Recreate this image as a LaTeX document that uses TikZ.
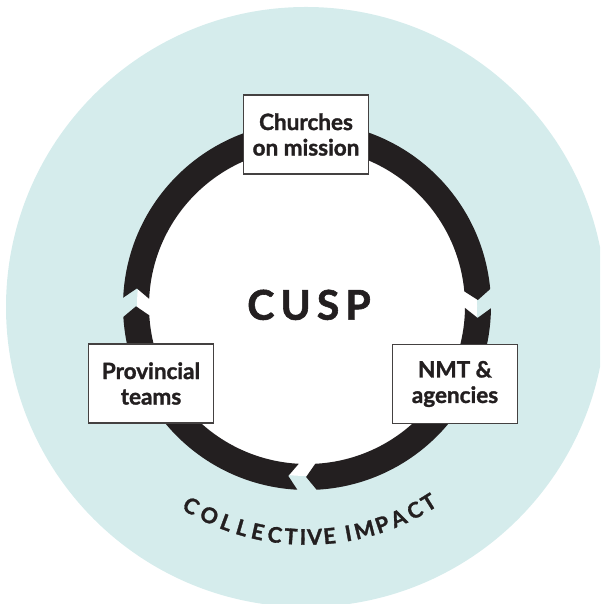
\documentclass[tikz,border=0pt]{standalone}
\usepackage{fontspec}
\setmainfont{Lato}[BoldFeatures={FakeBold=1.4}]
\usetikzlibrary{calc}
\definecolor{bgteal}{HTML}{D5ECEC}
\definecolor{inkblack}{HTML}{231F20}
\newcommand\arcfont{\fontsize{21.5}{24}\selectfont\bfseries}
\newcommand\ringarc[2]{%
  \pgfmathsetmacro\sa{#1-3}\pgfmathsetmacro\ea{#2+3}%
  \pgfmathsetmacro\ta{#2-0.3}\pgfmathsetmacro\nb{#1-6.3}%
  \fill[inkblack] ($(rc)+(\sa:184)$) arc[start angle=\sa, end angle=\ea, radius=184]
    -- ($(rc)+(\ta:171)$) -- ($(rc)+(\ea:158)$)
    arc[start angle=\ea, end angle=\sa, radius=158]
    -- ($(rc)+(\nb:171)$) -- cycle;}
\begin{document}
\begin{tikzpicture}[x=1pt,y=1pt,
  box/.style={draw=inkblack!85, line width=1.1pt, fill=white,
    minimum width=125pt, minimum height=79pt, align=center,
    font=\fontsize{22.5}{25.5}\selectfont\bfseries, text=inkblack, inner sep=0pt},
  arcletter/.style={anchor=center, inner sep=0pt, text=inkblack, font=\arcfont}]
\useasboundingbox (0,0) rectangle (600,604);
\clip (0,0) rectangle (600,604);
\fill[bgteal] (306,297) circle[radius=300];
\coordinate (rc) at (307,298);
\fill[white] (rc) circle[radius=170];
\ringarc{180.4}{2.3}
\ringarc{2.3}{-90}
\ringarc{270}{180.4}
\node[box] (church) at (306,469.5) {Churches\\on mission};
\node[box] (prov) at (151,220.5) {Provincial\\teams};
\node[box] (nmt) at (455,220) {NMT \&\\agencies};
\node[font=\fontsize{41}{45}\selectfont\bfseries, text=inkblack, anchor=base, inner sep=0pt]
  (cusp) at (309,284.3) {C\kern6pt U\kern6pt S\kern6pt P};
\foreach \ch/\ang [count=\k] in {C/239.9, O/245.0, L/249.6, L/253.7, E/257.7,
    C/262.0, T/266.0, I/269.0, V/271.9, E/275.6, I/280.3, M/284.4, P/289.0,
    A/293.3, C/297.8, T/301.8}{%
  \pgfmathsetmacro\rot{\ang-270}
  \node[arcletter, rotate=\rot] (ci\k) at ($(rc)+(\ang:231)$) {\ch};}
\end{tikzpicture}
\end{document}
